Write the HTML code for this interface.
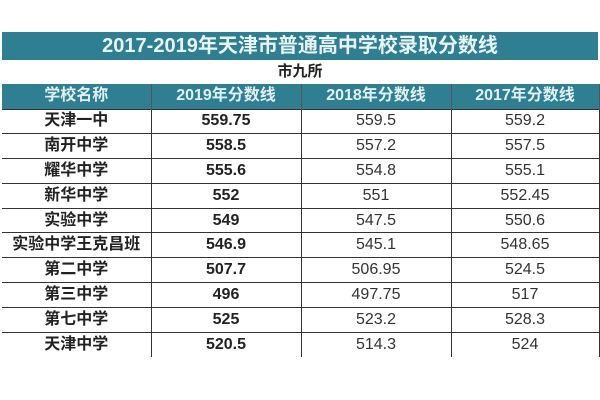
<!DOCTYPE html>
<html><head><meta charset="utf-8"><style>
body{margin:0;width:600px;height:400px;background:#fff;position:relative;overflow:hidden;font-family:"Liberation Sans","Noto Sans CJK SC",sans-serif;}
.t{position:absolute;left:2px;width:596px;text-align:center;}
#title{top:32px;height:28px;background:#2f7e92;color:#e8f4f4;font-weight:bold;font-size:20px;line-height:28px;}
#sub{top:60px;height:24px;font-weight:bold;font-size:15px;line-height:24px;color:#222;}
table{position:absolute;left:2px;top:84px;width:597px;border-collapse:collapse;table-layout:fixed;}
td{box-sizing:border-box;height:24.8px;padding:0;text-align:center;font-size:16px;color:#333;border-left:1px solid #333;border-right:1px solid #333;border-top:1px solid #333;line-height:22px;overflow:hidden;white-space:nowrap;}
tr.h td{background:#2f7e92;color:#dff0f0;font-weight:bold;height:25px;border-color:#2f7e92 #555;border-top:none;}
td.n{font-weight:bold;color:#222;}
td.b{font-weight:bold;color:#222;}
tr:last-child td{border-bottom:none;}
td:first-child{border-left:none}
</style></head><body>
<div class="t" id="title">2017-2019年天津市普通高中学校录取分数线</div>
<div class="t" id="sub">市九所</div>
<table>
<colgroup><col style="width:149px"><col style="width:150px"><col style="width:150px"><col style="width:148px"></colgroup>
<tr class="h"><td>学校名称</td><td>2019年分数线</td><td>2018年分数线</td><td>2017年分数线</td></tr>
<tr><td class="n">天津一中</td><td class="b">559.75</td><td>559.5</td><td>559.2</td></tr>
<tr><td class="n">南开中学</td><td class="b">558.5</td><td>557.2</td><td>557.5</td></tr>
<tr><td class="n">耀华中学</td><td class="b">555.6</td><td>554.8</td><td>555.1</td></tr>
<tr><td class="n">新华中学</td><td class="b">552</td><td>551</td><td>552.45</td></tr>
<tr><td class="n">实验中学</td><td class="b">549</td><td>547.5</td><td>550.6</td></tr>
<tr><td class="n">实验中学王克昌班</td><td class="b">546.9</td><td>545.1</td><td>548.65</td></tr>
<tr><td class="n">第二中学</td><td class="b">507.7</td><td>506.95</td><td>524.5</td></tr>
<tr><td class="n">第三中学</td><td class="b">496</td><td>497.75</td><td>517</td></tr>
<tr><td class="n">第七中学</td><td class="b">525</td><td>523.2</td><td>528.3</td></tr>
<tr><td class="n">天津中学</td><td class="b">520.5</td><td>514.3</td><td>524</td></tr>
</table>
</body></html>
